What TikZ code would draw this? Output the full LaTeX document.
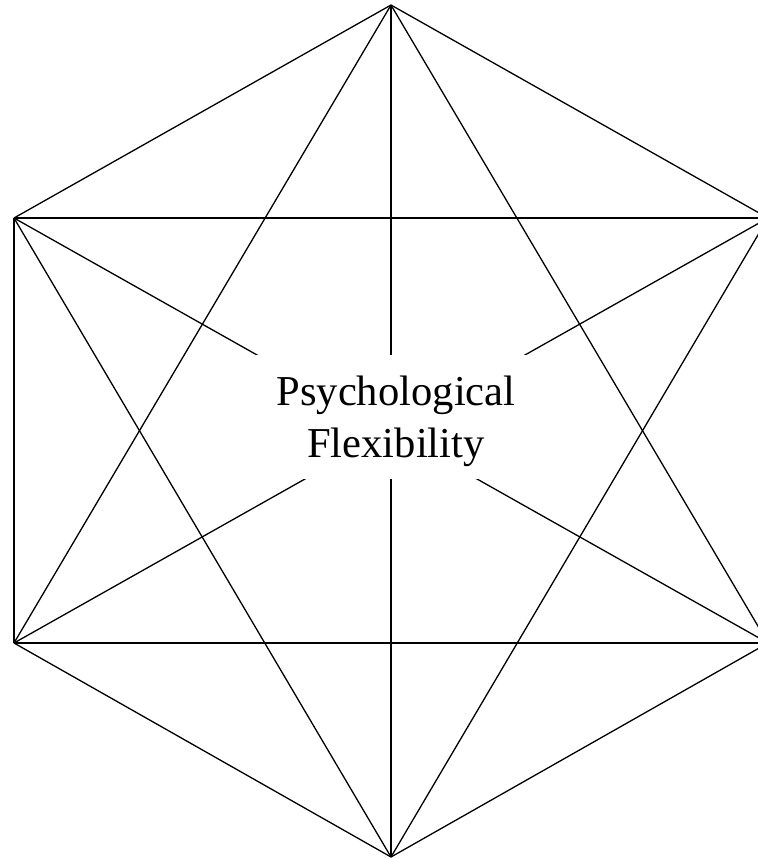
\documentclass[tikz,border=0pt]{standalone}
\usepackage{fontspec}
\setmainfont{Liberation Serif}
\usepackage{tikz}

\begin{document}
\begin{tikzpicture}[x=0.5pt, y=-0.5pt, line width=0.65pt]
  \useasboundingbox (0,0) rectangle (757,859);
  % corners of the hexagon
  \coordinate (top) at (391,5);
  \coordinate (ul) at (14,218);
  \coordinate (ur) at (768,218);
  \coordinate (ll) at (14,643);
  \coordinate (lr) at (768,643);
  \coordinate (bot) at (391,857);
  % every side and every diagonal
  \foreach \a/\b in {top/ul, top/ur, top/ll, top/lr, top/bot,
                     ul/ur, ul/ll, ul/lr, ul/bot,
                     ur/ll, ur/lr, ur/bot,
                     ll/lr, ll/bot, lr/bot}
    \draw (\a) -- (\b);
  % centre label
  \node[fill=white, inner sep=0pt, minimum width=135pt, minimum height=62pt,
        align=center, font=\fontsize{21.3}{26}\selectfont]
    (flex) at (391,416.5)
    {\rule{0pt}{20pt}\hspace*{5pt}Psychological\\[0pt]\hspace*{5pt}Flexibility};
\end{tikzpicture}
\end{document}
